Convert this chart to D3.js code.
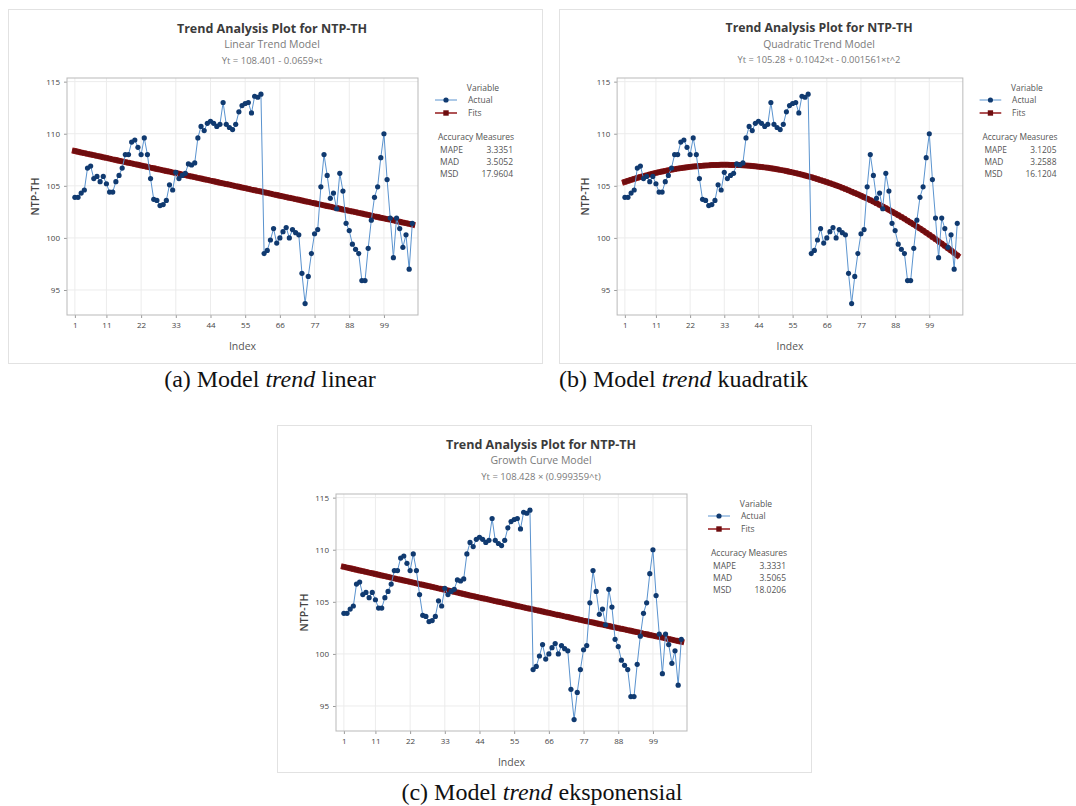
<!DOCTYPE html>
<html>
<head>
<meta charset="utf-8">
<script src="https://cdn.jsdelivr.net/npm/d3@7"></script>
<style>
  body { margin: 0; background: #fff; }
  svg { display: block; }
</style>
</head>
<body>
<div id="chart"></div>
<script>

var actual = [
  103.9, 103.9, 104.3, 104.6, 106.7, 106.9, 105.7, 105.9, 105.4, 105.9,
  105.2, 104.4, 104.4, 105.4, 106.0, 106.7, 108.0, 108.0, 109.2, 109.4,
  108.7, 108.0, 109.6, 108.0, 105.7, 103.7, 103.6, 103.1, 103.2, 103.6,
  105.1, 104.6, 106.3, 105.7, 106.0, 106.2, 107.1, 107.0, 107.2, 109.6,
  110.7, 110.3, 111.0, 111.2, 111.0, 110.7, 110.9, 113.0, 110.9, 110.6,
  110.4, 110.9, 112.1, 112.7, 112.9, 113.0, 112.0, 113.6, 113.5, 113.8,
  98.5, 98.8, 99.8, 100.9, 99.5, 100.0, 100.6, 101.0, 100.0, 100.8,
  100.5, 100.3, 96.6, 93.7, 96.3, 98.5, 100.4, 100.8, 104.9, 108.0,
  106.0, 103.8, 104.3, 102.8, 106.2, 104.5, 101.4, 100.7, 99.4, 98.9,
  98.5, 95.9, 95.9, 99.0, 101.7, 103.9, 104.9, 107.7, 110.0, 105.6,
  101.9, 98.1, 101.9, 100.9, 99.1, 100.3, 97.0, 101.4
];

// fitted values of each model
var fitsLinear = [
  108.34, 108.27, 108.20, 108.14, 108.07, 108.01, 107.94, 107.87, 107.81, 107.74,
  107.68, 107.61, 107.54, 107.48, 107.41, 107.35, 107.28, 107.21, 107.15, 107.08,
  107.02, 106.95, 106.89, 106.82, 106.75, 106.69, 106.62, 106.56, 106.49, 106.42,
  106.36, 106.29, 106.23, 106.16, 106.09, 106.03, 105.96, 105.90, 105.83, 105.76,
  105.70, 105.63, 105.57, 105.50, 105.44, 105.37, 105.30, 105.24, 105.17, 105.11,
  105.04, 104.97, 104.91, 104.84, 104.78, 104.71, 104.64, 104.58, 104.51, 104.45,
  104.38, 104.32, 104.25, 104.18, 104.12, 104.05, 103.99, 103.92, 103.85, 103.79,
  103.72, 103.66, 103.59, 103.52, 103.46, 103.39, 103.33, 103.26, 103.20, 103.13,
  103.06, 103.00, 102.93, 102.87, 102.80, 102.73, 102.67, 102.60, 102.54, 102.47,
  102.40, 102.34, 102.27, 102.21, 102.14, 102.07, 102.01, 101.94, 101.88, 101.81,
  101.75, 101.68, 101.61, 101.55, 101.48, 101.42, 101.35, 101.28
];
var fitsQuadratic = [
  105.38, 105.48, 105.58, 105.67, 105.76, 105.85, 105.93, 106.01, 106.09, 106.17,
  106.24, 106.31, 106.37, 106.43, 106.49, 106.55, 106.60, 106.65, 106.70, 106.74,
  106.78, 106.82, 106.85, 106.88, 106.91, 106.93, 106.96, 106.97, 106.99, 107.00,
  107.01, 107.02, 107.02, 107.02, 107.01, 107.01, 107.00, 106.99, 106.97, 106.95,
  106.93, 106.90, 106.87, 106.84, 106.81, 106.77, 106.73, 106.69, 106.64, 106.59,
  106.53, 106.48, 106.42, 106.35, 106.29, 106.22, 106.15, 106.07, 105.99, 105.91,
  105.83, 105.74, 105.65, 105.55, 105.46, 105.36, 105.25, 105.15, 105.04, 104.93,
  104.81, 104.69, 104.57, 104.44, 104.31, 104.18, 104.05, 103.91, 103.77, 103.63,
  103.48, 103.33, 103.17, 103.02, 102.86, 102.70, 102.53, 102.36, 102.19, 102.01,
  101.84, 101.65, 101.47, 101.28, 101.09, 100.90, 100.70, 100.50, 100.30, 100.09,
  99.88, 99.67, 99.45, 99.23, 99.01, 98.79, 98.56, 98.33
];
var fitsGrowth = [
  108.36, 108.29, 108.22, 108.15, 108.08, 108.01, 107.94, 107.87, 107.80, 107.74,
  107.67, 107.60, 107.53, 107.46, 107.39, 107.32, 107.25, 107.18, 107.12, 107.05,
  106.98, 106.91, 106.84, 106.77, 106.70, 106.64, 106.57, 106.50, 106.43, 106.36,
  106.29, 106.23, 106.16, 106.09, 106.02, 105.95, 105.89, 105.82, 105.75, 105.68,
  105.61, 105.55, 105.48, 105.41, 105.34, 105.28, 105.21, 105.14, 105.07, 105.01,
  104.94, 104.87, 104.81, 104.74, 104.67, 104.60, 104.54, 104.47, 104.40, 104.34,
  104.27, 104.20, 104.14, 104.07, 104.00, 103.94, 103.87, 103.80, 103.74, 103.67,
  103.60, 103.54, 103.47, 103.40, 103.34, 103.27, 103.20, 103.14, 103.07, 103.01,
  102.94, 102.87, 102.81, 102.74, 102.68, 102.61, 102.55, 102.48, 102.41, 102.35,
  102.28, 102.22, 102.15, 102.09, 102.02, 101.95, 101.89, 101.82, 101.76, 101.69,
  101.63, 101.56, 101.50, 101.43, 101.37, 101.30, 101.24, 101.17
];

var xTicks = [1, 11, 22, 33, 44, 55, 66, 77, 88, 99];
var yTicks = [95, 100, 105, 110, 115];

var chartTitle = "Trend Analysis Plot for NTP-TH";
var subtitles = ["Linear Trend Model", "Quadratic Trend Model", "Growth Curve Model"];
var equations = ["Yt = 108.401 - 0.0659\u00d7t",
                 "Yt = 105.28 + 0.1042\u00d7t - 0.001561\u00d7t^2",
                 "Yt = 108.428 \u00d7 (0.999359^t)"];
var legendNames = ["Actual", "Fits"];
var measureNames = ["MAPE", "MAD", "MSD"];
var measuresLinear = ["3.3351", "3.5052", "17.9604"];
var measuresQuadratic = ["3.1205", "3.2588", "16.1204"];
var measuresGrowth = ["3.3331", "3.5065", "18.0206"];
var captionHeads = ["(a) Model ", "(b) Model ", "(c) Model "];
var captionTails = [" linear", " kuadratik", " eksponensial"];

var actualLine = "#5a93cf", actualDot = "#103a70";
var fitsLine = "#951a1c", fitsDot = "#6e0d0f";
var sans = "'Open Sans', 'Noto Sans', sans-serif";

var svg = d3.select("#chart").append("svg")
      .attr("width", 1076)
      .attr("height", 806);

// one Minitab style panel
var pw = 534;
var pl = 59, pr = 410, pt = 69, pb = 306;

function drawPanel(px, py, sx, ph, fits, k, measures, legDx) {
      var g = svg.append("g")
            .attr("transform", "translate(" + px + "," + py + ") scale(" + sx + ",1)");

      g.append("rect")
            .attr("x", 0.5).attr("y", 0.5)
            .attr("width", pw).attr("height", ph)
            .attr("fill", "#fff")
            .attr("stroke", "#e2e2e2");

      var x = d3.scaleLinear().domain([-1.5, 109.8]).range([pl, pr]);
      var y = d3.scaleLinear().domain([92.6, 115.35]).range([pb, pt]);

      // titles
      g.append("text").attr("x", 264).attr("y", 23.5)
            .attr("text-anchor", "middle")
            .style("font-family", sans).style("font-size", "12.5px").style("font-weight", "bold")
            .style("fill", "#3b3b3b")
            .text(chartTitle);
      g.append("text").attr("x", 264).attr("y", 39)
            .attr("text-anchor", "middle")
            .style("font-family", sans).style("font-size", "10.5px")
            .style("fill", "#7a7a7a")
            .text(subtitles[k]);
      g.append("text").attr("x", 264).attr("y", 54.5)
            .attr("text-anchor", "middle")
            .style("font-family", sans).style("font-size", "9.5px")
            .style("fill", "#7a7a7a")
            .text(equations[k]);

      // grid
      g.append("g").selectAll("line").data(yTicks).enter().append("line")
            .attr("x1", pl).attr("x2", pr)
            .attr("y1", function (d) { return y(d); })
            .attr("y2", function (d) { return y(d); })
            .attr("stroke", "#ececec");
      g.append("g").selectAll("line").data(xTicks).enter().append("line")
            .attr("y1", pt).attr("y2", pb)
            .attr("x1", function (d) { return x(d); })
            .attr("x2", function (d) { return x(d); })
            .attr("stroke", "#ececec");

      // axes
      var yAxis = g.append("g")
            .attr("transform", "translate(" + pl + ",0)")
            .call(d3.axisLeft(y).tickValues(yTicks).tickSize(3).tickPadding(4));
      var xAxis = g.append("g")
            .attr("transform", "translate(0," + pb + ")")
            .call(d3.axisBottom(x).tickValues(xTicks).tickSize(3).tickPadding(4));
      [yAxis, xAxis].forEach(function (a) {
            a.select(".domain").remove();
            a.selectAll("line").attr("stroke", "#9a9a9a");
            a.selectAll("text")
                  .style("font-family", sans).style("font-size", "8px")
                  .style("fill", "#444");
      });

      g.append("rect")
            .attr("x", pl).attr("y", pt)
            .attr("width", pr - pl).attr("height", pb - pt)
            .attr("fill", "none")
            .attr("stroke", "#b9b9b9");

      g.append("text")
            .attr("transform", "translate(27," + ((pt + pb) / 2) + ") rotate(-90)")
            .attr("text-anchor", "middle").attr("dy", "0.35em")
            .style("font-family", sans).style("font-size", "10.5px").style("font-weight", "600")
            .style("fill", "#444")
            .text("NTP-TH");
      g.append("text")
            .attr("x", (pl + pr) / 2).attr("y", 341)
            .attr("text-anchor", "middle")
            .style("font-family", sans).style("font-size", "10.5px")
            .style("fill", "#555")
            .text("Index");

      // fits
      var line = d3.line()
            .x(function (d, i) { return x(i + 1); })
            .y(function (d) { return y(d); });
      g.append("path").datum(fits)
            .attr("d", line)
            .attr("fill", "none")
            .attr("stroke", fitsLine)
            .attr("stroke-width", 6)
            .attr("stroke-linecap", "square");
      g.append("g").selectAll("rect").data(fits).enter().append("rect")
            .attr("x", function (d, i) { return x(i + 1) - 2.4; })
            .attr("y", function (d) { return y(d) - 2.4; })
            .attr("width", 4.8).attr("height", 4.8)
            .attr("fill", fitsDot);

      // actual
      g.append("path").datum(actual)
            .attr("d", line)
            .attr("fill", "none")
            .attr("stroke", actualLine)
            .attr("stroke-width", 1);
      g.append("g").selectAll("circle").data(actual).enter().append("circle")
            .attr("cx", function (d, i) { return x(i + 1); })
            .attr("cy", function (d) { return y(d); })
            .attr("r", 2.6)
            .attr("fill", actualDot);

      // legend
      var lg = g.append("g").attr("transform", "translate(" + legDx + ",0)");
      var small = function (s) {
            return s.style("font-family", sans).style("font-size", "8.5px").style("fill", "#555");
      };
      small(lg.append("text").attr("x", 475).attr("y", 82).attr("text-anchor", "middle").text("Variable"));
      legendNames.forEach(function (name, i) {
            var ly = 91 + i * 13;
            lg.append("line").attr("x1", 427).attr("x2", 449).attr("y1", ly).attr("y2", ly)
                  .attr("stroke", i == 0 ? actualLine : fitsLine).attr("stroke-width", i == 0 ? 1 : 1.5);
            if (i == 0) {
                  lg.append("circle").attr("cx", 438).attr("cy", ly).attr("r", 2.6).attr("fill", actualDot);
            } else {
                  lg.append("rect").attr("x", 435.3).attr("y", ly - 2.7).attr("width", 5.4).attr("height", 5.4).attr("fill", fitsDot);
            }
            small(lg.append("text").attr("x", 460).attr("y", ly).attr("dy", "0.35em").text(name));
      });
      small(lg.append("text").attr("x", 430).attr("y", 131).text("Accuracy Measures"));
      measureNames.forEach(function (name, i) {
            var ly = 141 + i * 12;
            small(lg.append("text").attr("x", 432).attr("y", ly).attr("dy", "0.35em").text(name));
            small(lg.append("text").attr("x", 505).attr("y", ly).attr("dy", "0.35em")
                  .attr("text-anchor", "end").text(measures[i]));
      });
}

drawPanel(8, 9, 1, 354, fitsLinear, 0, measuresLinear, 0);
drawPanel(559, 9, 0.985, 354, fitsQuadratic, 1, measuresQuadratic, 0);
drawPanel(277, 425, 1, 347, fitsGrowth, 2, measuresGrowth, 4);

// captions under the panels
var capPos = [[270, 387, "middle"], [559, 387, "start"], [542, 800, "middle"]];
capPos.forEach(function (p, i) {
      var t = svg.append("text")
            .attr("x", p[0]).attr("y", p[1])
            .attr("text-anchor", p[2])
            .style("font-family", "'Liberation Serif', 'Times New Roman', serif")
            .style("font-size", "24px")
            .style("fill", "#111");
      t.append("tspan").text(captionHeads[i]);
      t.append("tspan").style("font-style", "italic").text("trend");
      t.append("tspan").text(captionTails[i]);
});

</script>
</body>
</html>
